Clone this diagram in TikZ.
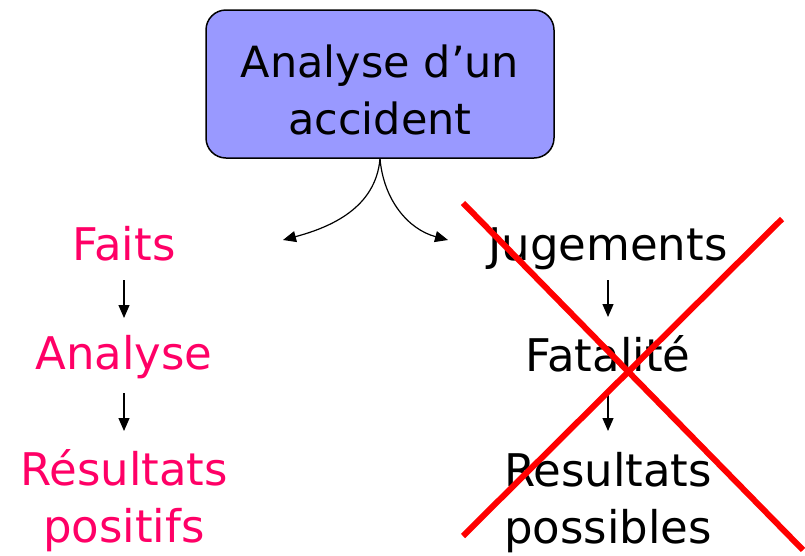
\documentclass[tikz,border=0pt]{standalone}
\usepackage{fontspec}
\setmainfont{DejaVu Sans}
\usetikzlibrary{arrows.meta}
\definecolor{boxfill}{HTML}{9999FF}
\definecolor{pinktxt}{HTML}{FF0066}
\tikzset{
  big/.style={font=\fontsize{45}{57}\selectfont, inner sep=0pt, align=center},
  boxtxt/.style={font=\fontsize{43}{57}\selectfont, align=center},
  arr/.style={line width=1.2pt, -{Triangle[length=13pt,width=11pt]}},
  cross/.style={red, line width=6pt},
}
\begin{document}
\begin{tikzpicture}[x=1pt,y=-1pt]
\useasboundingbox (0,0) rectangle (805,555);
\node[boxtxt, draw=black, line width=1.5pt, fill=boxfill, rounded corners=20pt,
      minimum width=348pt, minimum height=148pt] (box) at (380,84) {\rule{0pt}{44pt}Analyse d’un\\accident};
\coordinate (tl) at (283,240);
\coordinate (tr) at (448,240);
\draw[arr] (box.south) to[out=-95,in=15] (tl);
\draw[arr] (box.south) to[out=-85,in=165] (tr);

\node[big, text=pinktxt, anchor=base] (faits) at (124,260) {Faits};
\node[big, text=pinktxt, anchor=base] (analyse) at (124,369) {Analyse};
\node[big, text=pinktxt, anchor=base] (resp) at (124,542) {Résultats\\positifs};
\draw[arr] (124,280) -- (124,318);
\draw[arr] (124,393) -- (124,431);

\node[big, anchor=base] (jug) at (608,260) {Jugements};
\node[big, anchor=base] (fat) at (608,371) {Fatalité};
\node[big, anchor=base] (resr) at (608,543) {Resultats\\possibles};
\draw[arr] (608,280) -- (608,317);
\draw[arr] (608,393) -- (608,431);

\coordinate (c1) at (463,203);
\coordinate (c2) at (803,550);
\coordinate (c3) at (782,219);
\coordinate (c4) at (463,536);
\draw[cross] (c1) -- (c2);
\draw[cross] (c3) -- (c4);
\end{tikzpicture}
\end{document}
